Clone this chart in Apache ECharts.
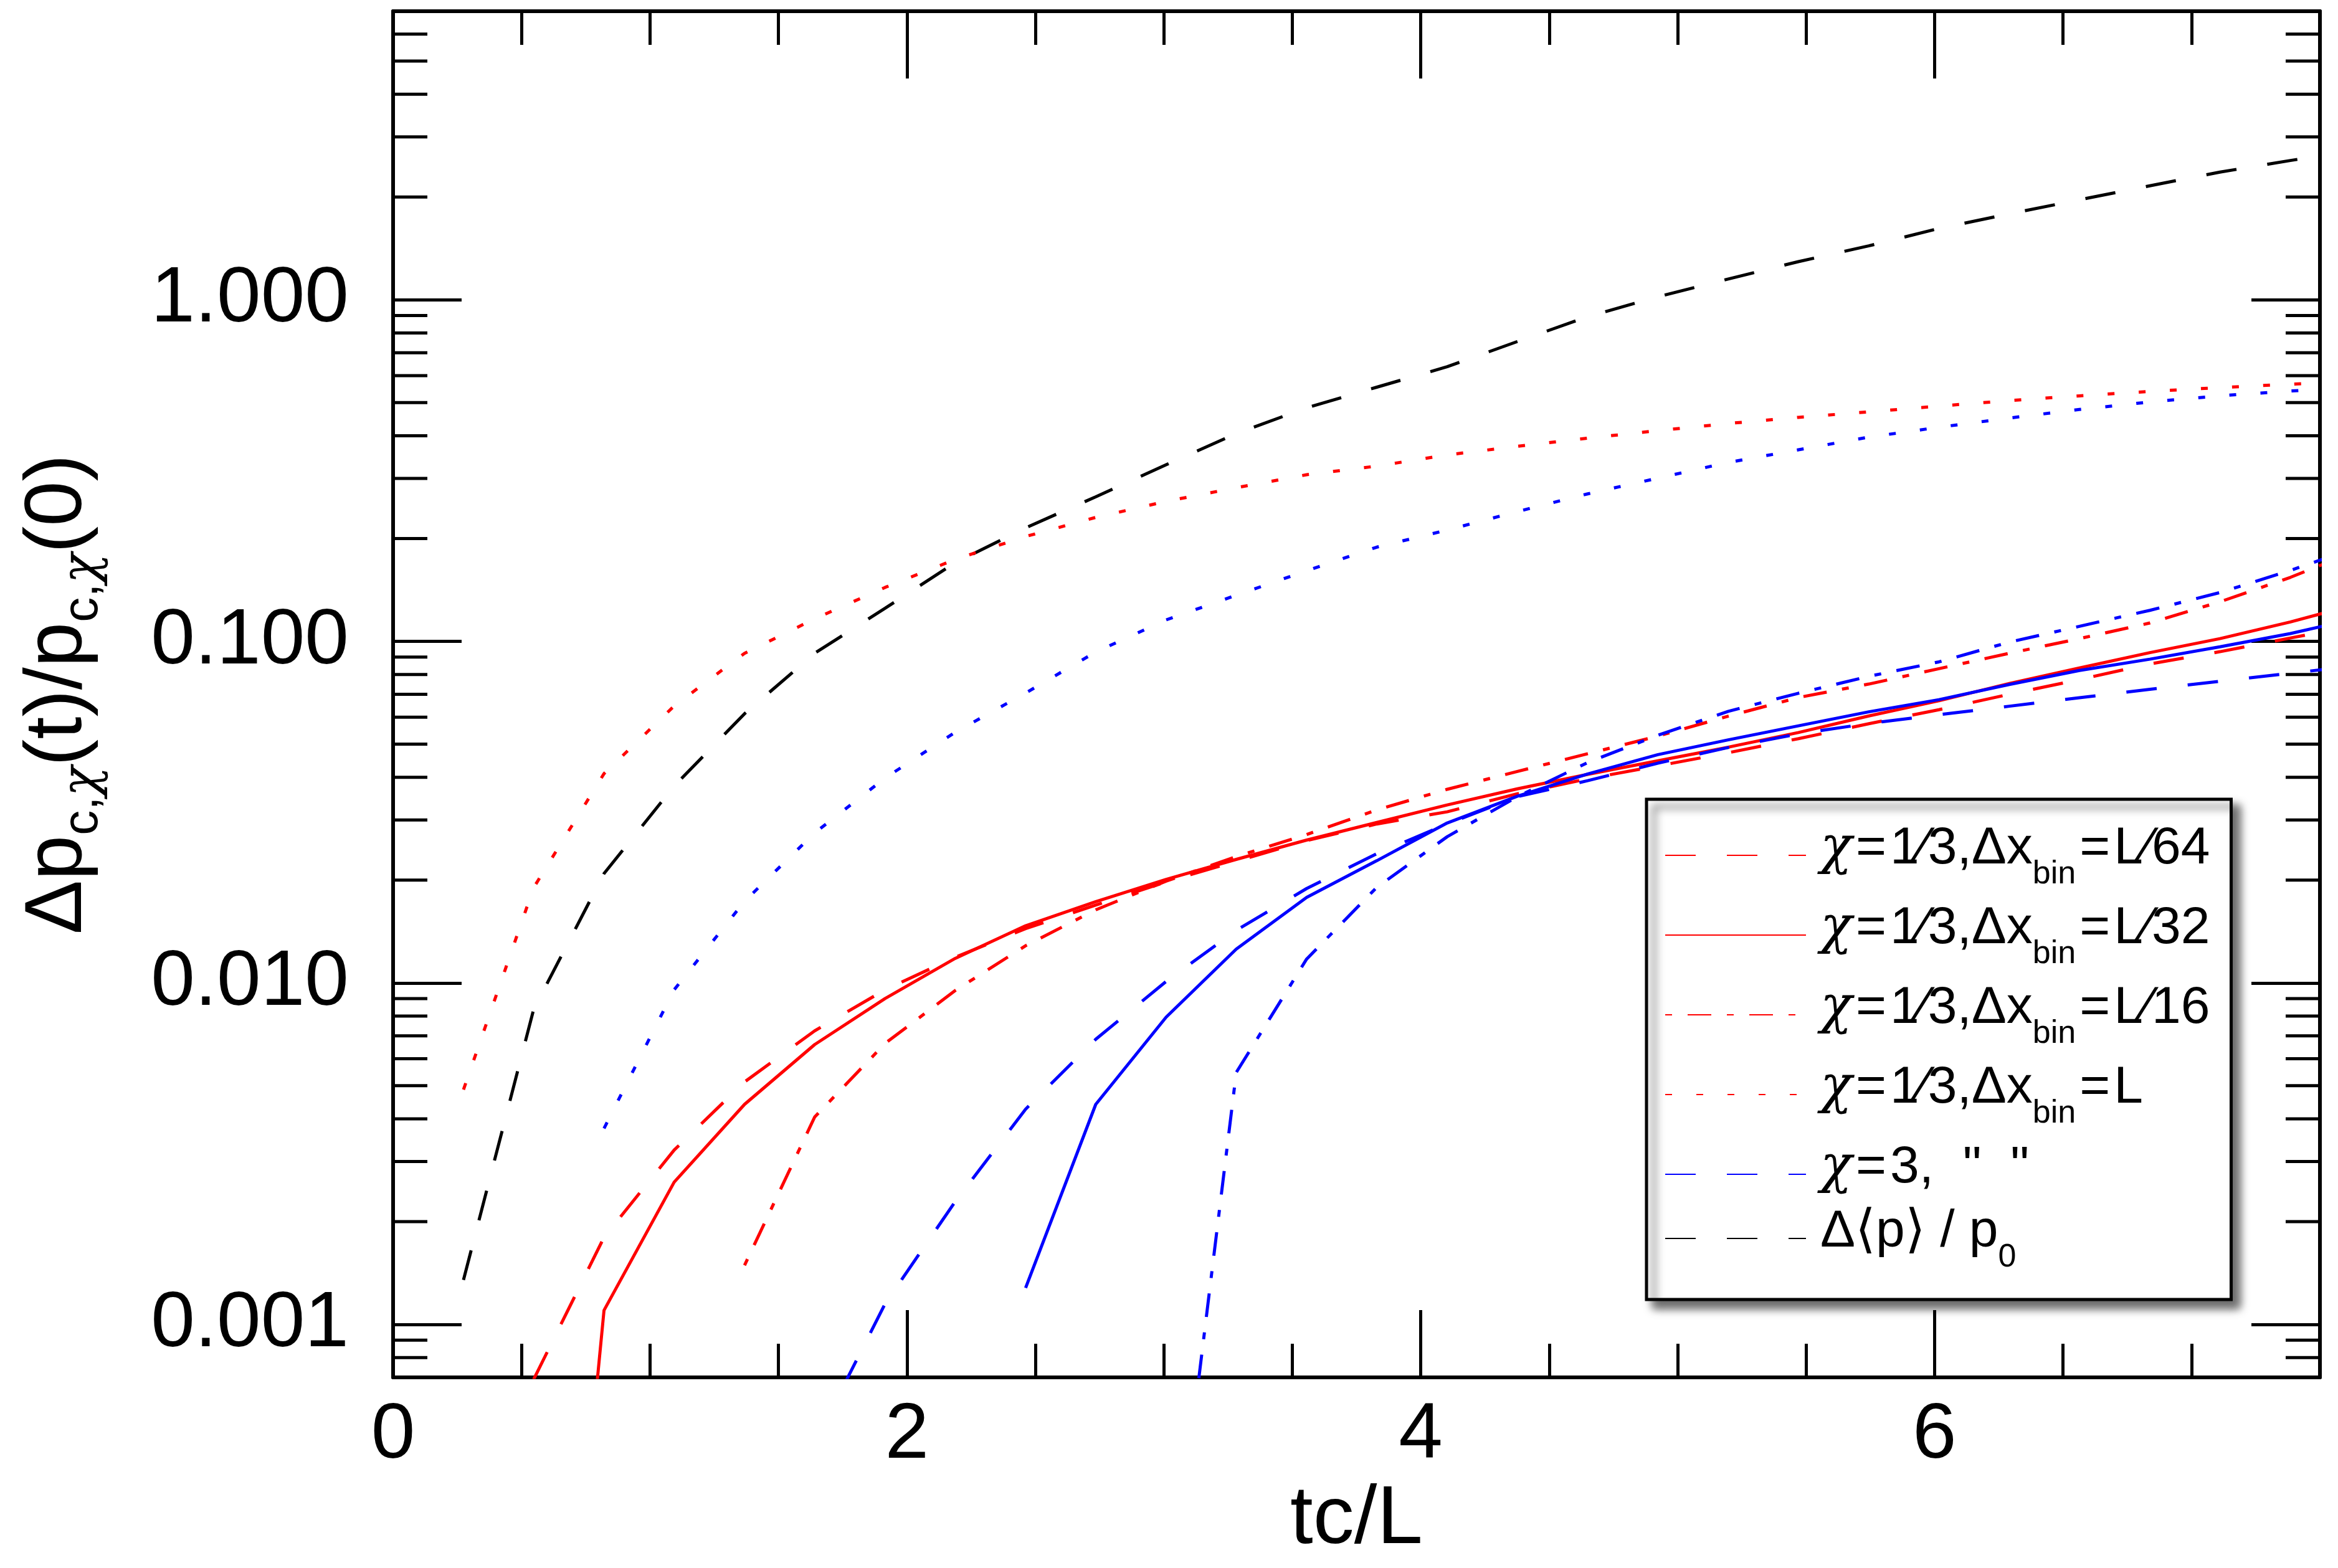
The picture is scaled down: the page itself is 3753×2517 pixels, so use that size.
<!DOCTYPE html>
<html>
<head>
<meta charset="utf-8">
<title>Δp(t)/p(0) vs tc/L</title>
<script src="https://cdn.jsdelivr.net/npm/echarts@6.0.0/dist/echarts.min.js"></script>
<style>
  html, body { margin: 0; padding: 0; background: #fff; }
  #chart { width: 3753px; height: 2517px; }
</style>
</head>
<body>
<div id="chart"></div>
<script>
// sample times (tc/L)
var tc = [0.274, 0.547, 0.821, 1.094, 1.368, 1.641, 1.915, 2.188, 2.462, 2.735,
          3.009, 3.282, 3.556, 3.829, 4.103, 4.376, 4.650, 4.923, 5.197, 5.470,
          5.744, 6.017, 6.291, 6.564, 6.838, 7.111, 7.385, 7.658];

// chi = 1/3
var r64 = [null, 0.00069, 0.0018, 0.00324, 0.00513, 0.00724, 0.00955, 0.01189, 0.01442, 0.0169,
           0.01977, 0.0227, 0.0261, 0.0292, 0.0317, 0.0358, 0.0396, 0.0432, 0.0472, 0.0519,
           0.0574, 0.0631, 0.0700, 0.0773, 0.0859, 0.0933, 0.1023, 0.112];
var r32 = [null, 0.000008, 0.00110, 0.00261, 0.00441, 0.00660, 0.00900, 0.0118, 0.0147, 0.0173,
           0.0201, 0.0230, 0.0262, 0.0295, 0.0332, 0.0370, 0.0408, 0.0447, 0.0490, 0.0541,
           0.0605, 0.0670, 0.0753, 0.0836, 0.0927, 0.1019, 0.1140, 0.1294];
var r16 = [null, null, null, null, 0.00149, 0.00405, 0.00665, 0.0095, 0.01285, 0.01637,
           0.01986, 0.02344, 0.0272, 0.0321, 0.0369, 0.0416, 0.0469, 0.0528, 0.0604, 0.0685,
           0.0750, 0.0832, 0.0923, 0.1019, 0.1132, 0.1306, 0.154, 0.186];
var r1  = [0.00487, 0.0190, 0.0410, 0.0647, 0.0923, 0.1164, 0.1439, 0.1738, 0.2028, 0.2307,
           0.2570, 0.2818, 0.3076, 0.326, 0.3516, 0.3724, 0.3936, 0.4140, 0.4345, 0.4529,
           0.4699, 0.4887, 0.5070, 0.5236, 0.5395, 0.5534, 0.5662, 0.578];

// chi = 3
var b64 = [null, null, null, null, null, 0.00045, 0.00115, 0.00229, 0.00427, 0.00684,
           0.0101, 0.01426, 0.0189, 0.0239, 0.0292, 0.0351, 0.0391, 0.044, 0.0489, 0.0536,
           0.0575, 0.0610, 0.0646, 0.0684, 0.0724, 0.0764, 0.0807, 0.085];
var b32 = [null, null, null, null, null, null, null, null, 0.00128, 0.00441,
           0.00794, 0.01256, 0.0178, 0.0228, 0.0294, 0.0352, 0.0409, 0.0466, 0.0515, 0.0566,
           0.0622, 0.0675, 0.0748, 0.0822, 0.0887, 0.0964, 0.1054, 0.1175];
var b16 = [null, null, null, null, null, null, null, null, null, null,
           0.000115, 0.00547, 0.01175, 0.01905, 0.0268, 0.0351, 0.0442, 0.0531, 0.0624, 0.0705,
           0.079, 0.0871, 0.0995, 0.1107, 0.1233, 0.139, 0.1614, 0.19];
var b1  = [null, null, 0.00375, 0.00955, 0.01734, 0.0275, 0.0398, 0.0542, 0.0706, 0.0931,
           0.1156, 0.1365, 0.161, 0.1888, 0.2118, 0.2399, 0.2704, 0.3006, 0.3342, 0.3639,
           0.3963, 0.4236, 0.4508, 0.4775, 0.5023, 0.5236, 0.5408, 0.556];

// delta <p> / p0
var avgP = [0.00135, 0.00836, 0.0209, 0.0377, 0.0614, 0.0923, 0.125, 0.170, 0.215, 0.265,
            0.329, 0.406, 0.483, 0.555, 0.637, 0.755, 0.893, 1.021, 1.151, 1.294,
            1.439, 1.618, 1.786, 1.963, 2.158, 2.366, 2.559, 2.754];

// axis ticks
var yLabelTicks = [0.001, 0.01, 0.1, 1];
var yMinorTicks = [0.0008, 0.0009,
                   0.002, 0.003, 0.004, 0.005, 0.006, 0.007, 0.008, 0.009,
                   0.02, 0.03, 0.04, 0.05, 0.06, 0.07, 0.08, 0.09,
                   0.2, 0.3, 0.4, 0.5, 0.6, 0.7, 0.8, 0.9,
                   2, 3, 4, 5, 6];
var xLabelTicks = [0, 2, 4, 6];

var FONT = 'Liberation Sans, Arial, Helvetica, sans-serif';
var GREEK = 'DejaVu Serif, serif';
var RED = '#ff0000', BLUE = '#0000ff', BLACK = '#000000';
var DASH = [49, 50], DASHDOT = [11, 25, 38, 25], DOT = [11, 39];

function pairs(vals) {
    return tc.map(function (t, i) {
        return [t, vals[i] == null ? '-' : vals[i]];
    });
}

function lineSeries(name, vals, color, type) {
    return {
        name: name,
        type: 'line',
        data: pairs(vals),
        symbol: 'none',
        clip: true,
        lineStyle: { color: color, width: 5, type: type },
        itemStyle: { color: color },
        z: 3
    };
}

var legendText = {
    r64: '{c|χ}{e|=}{m|1⁄3,Δx}{s|bin}{e|=}{m|L⁄64}',
    r32: '{c|χ}{e|=}{m|1⁄3,Δx}{s|bin}{e|=}{m|L⁄32}',
    r16: '{c|χ}{e|=}{m|1⁄3,Δx}{s|bin}{e|=}{m|L⁄16}',
    r1:  '{c|χ}{e|=}{m|1⁄3,Δx}{s|bin}{e|=}{m|L}',
    b64: '{c|χ}{e|=}{m|3,  "  "}',
    avg: '{m|Δ⟨p⟩ / p}{s|0}'
};

var chart = echarts.init(document.getElementById('chart'));

var tickStyle = { color: BLACK, width: 5 };
var frameStyle = { color: BLACK, width: 6 };

var option = {
    animation: false,
    backgroundColor: '#ffffff',
    textStyle: { fontFamily: FONT, color: BLACK },
    grid: { left: 631, top: 18, right: 29, bottom: 306, containLabel: false, outerBoundsMode: 'none' },
    legend: {
        data: ['r64', 'r32', 'r16', 'r1', 'b64', 'avg'],
        orient: 'vertical',
        left: 2643,
        top: 1283,
        itemWidth: 226,
        itemHeight: 1,
        itemGap: 19,
        padding: [38, 34, 41, 29],
        selectedMode: false,
        backgroundColor: '#ffffff',
        borderColor: BLACK,
        borderWidth: 5,
        shadowColor: 'rgba(0,0,0,0.6)',
        shadowBlur: 14,
        shadowOffsetX: 12,
        shadowOffsetY: 12,
        itemStyle: { opacity: 0 },
        formatter: function (name) { return legendText[name]; },
        textStyle: {
            padding: [0, 0, 0, 18],
            rich: {
                m: { fontFamily: FONT, fontSize: 84, lineHeight: 104, verticalAlign: 'top', color: BLACK },
                c: { fontFamily: GREEK, fontStyle: 'italic', fontSize: 84, lineHeight: 104, verticalAlign: 'top', color: BLACK },
                e: { fontFamily: FONT, fontSize: 84, lineHeight: 104, verticalAlign: 'top', color: BLACK, padding: [0, 6, 0, 6] },
                s: { fontFamily: FONT, fontSize: 52, lineHeight: 46, verticalAlign: 'top', color: BLACK, padding: [57, 0, 0, 0] }
            }
        }
    },
    xAxis: [
        {   // bottom, major ticks + labels
            type: 'value', position: 'bottom', min: 0, max: 7.5, interval: 2,
            name: 'tc/L', nameLocation: 'middle', nameGap: 164,
            nameTextStyle: { fontFamily: FONT, fontSize: 132, color: BLACK },
            axisLine: { show: true, onZero: false, lineStyle: frameStyle },
            axisTick: { show: true, inside: true, length: 108, lineStyle: tickStyle },
            axisLabel: {
                fontFamily: FONT, fontSize: 127, color: BLACK, margin: 30,
                showMaxLabel: false,
                formatter: function (v) { return xLabelTicks.indexOf(v) >= 0 ? String(v) : ''; }
            },
            splitLine: { show: false }
        },
        {   // bottom, minor ticks
            type: 'value', position: 'bottom', min: 0, max: 7.5, interval: 0.5,
            axisLine: { show: false, onZero: false },
            axisTick: { show: true, inside: true, length: 54, lineStyle: tickStyle },
            axisLabel: { show: false },
            splitLine: { show: false }
        },
        {   // top, major ticks
            type: 'value', position: 'top', min: 0, max: 7.5, interval: 2,
            axisLine: { show: true, onZero: false, lineStyle: frameStyle },
            axisTick: { show: true, inside: true, length: 108, lineStyle: tickStyle },
            axisLabel: { show: false },
            splitLine: { show: false }
        },
        {   // top, minor ticks
            type: 'value', position: 'top', min: 0, max: 7.5, interval: 0.5,
            axisLine: { show: false, onZero: false },
            axisTick: { show: true, inside: true, length: 54, lineStyle: tickStyle },
            axisLabel: { show: false },
            splitLine: { show: false }
        }
    ],
    yAxis: [
        {
            type: 'log', logBase: 10, position: 'left', min: 0.0007, max: 7,
            name: '{m|Δp}{s|c,}{sc|χ}{m|(t)/p}{s|c,}{sc|χ}{m|(0)}',
            nameLocation: 'middle', nameRotate: 90, nameGap: 472,
            nameTextStyle: {
                rich: {
                    m: { fontFamily: FONT, fontSize: 130, lineHeight: 130, verticalAlign: 'top', color: BLACK },
                    s: { fontFamily: FONT, fontSize: 80, lineHeight: 80, verticalAlign: 'top', color: BLACK, padding: [65, 0, 0, 0] },
                    sc: { fontFamily: GREEK, fontStyle: 'italic', fontSize: 80, lineHeight: 80, verticalAlign: 'top', color: BLACK, padding: [65, 0, 0, 0] }
                }
            },
            axisLine: { show: true, onZero: false, lineStyle: frameStyle },
            axisTick: { show: true, inside: true, length: 110, lineStyle: tickStyle },
            axisLabel: {
                fontFamily: FONT, fontSize: 127, color: BLACK, margin: 71,
                showMinLabel: false, showMaxLabel: false,
                formatter: function (v) {
                    for (var i = 0; i < yLabelTicks.length; i++) {
                        if (Math.abs(v - yLabelTicks[i]) < yLabelTicks[i] * 1e-6) return yLabelTicks[i].toFixed(3);
                    }
                    return '';
                }
            },
            splitLine: { show: false }
        },
        {
            type: 'log', logBase: 10, position: 'right', min: 0.0007, max: 7,
            axisLine: { show: true, onZero: false, lineStyle: frameStyle },
            axisTick: { show: true, inside: true, length: 110, lineStyle: tickStyle },
            axisLabel: { show: false },
            splitLine: { show: false }
        }
    ],
    series: [
        lineSeries('avg', avgP, BLACK, DASH),
        lineSeries('r1', r1, RED, DOT),
        lineSeries('b1', b1, BLUE, DOT),
        lineSeries('r64', r64, RED, DASH),
        lineSeries('r32', r32, RED, 'solid'),
        lineSeries('r16', r16, RED, DASHDOT),
        lineSeries('b64', b64, BLUE, DASH),
        lineSeries('b32', b32, BLUE, 'solid'),
        lineSeries('b16', b16, BLUE, DASHDOT),
        {
            // minor log ticks on left and right frame
            name: 'minorTicks',
            type: 'custom',
            xAxisIndex: 0,
            yAxisIndex: 0,
            silent: true,
            z: 4,
            data: yMinorTicks.map(function (v) { return [0, v]; }),
            encode: { x: 0, y: 1 },
            renderItem: function (params, api) {
                var y = api.coord([0, api.value(1)])[1];
                var cs = params.coordSys;
                var st = { stroke: BLACK, lineWidth: 5 };
                return {
                    type: 'group',
                    children: [
                        { type: 'line', shape: { x1: cs.x, y1: y, x2: cs.x + 55, y2: y }, style: st },
                        { type: 'line', shape: { x1: cs.x + cs.width - 55, y1: y, x2: cs.x + cs.width, y2: y }, style: st }
                    ]
                };
            }
        }
    ]
};

chart.setOption(option);
</script>
</body>
</html>
